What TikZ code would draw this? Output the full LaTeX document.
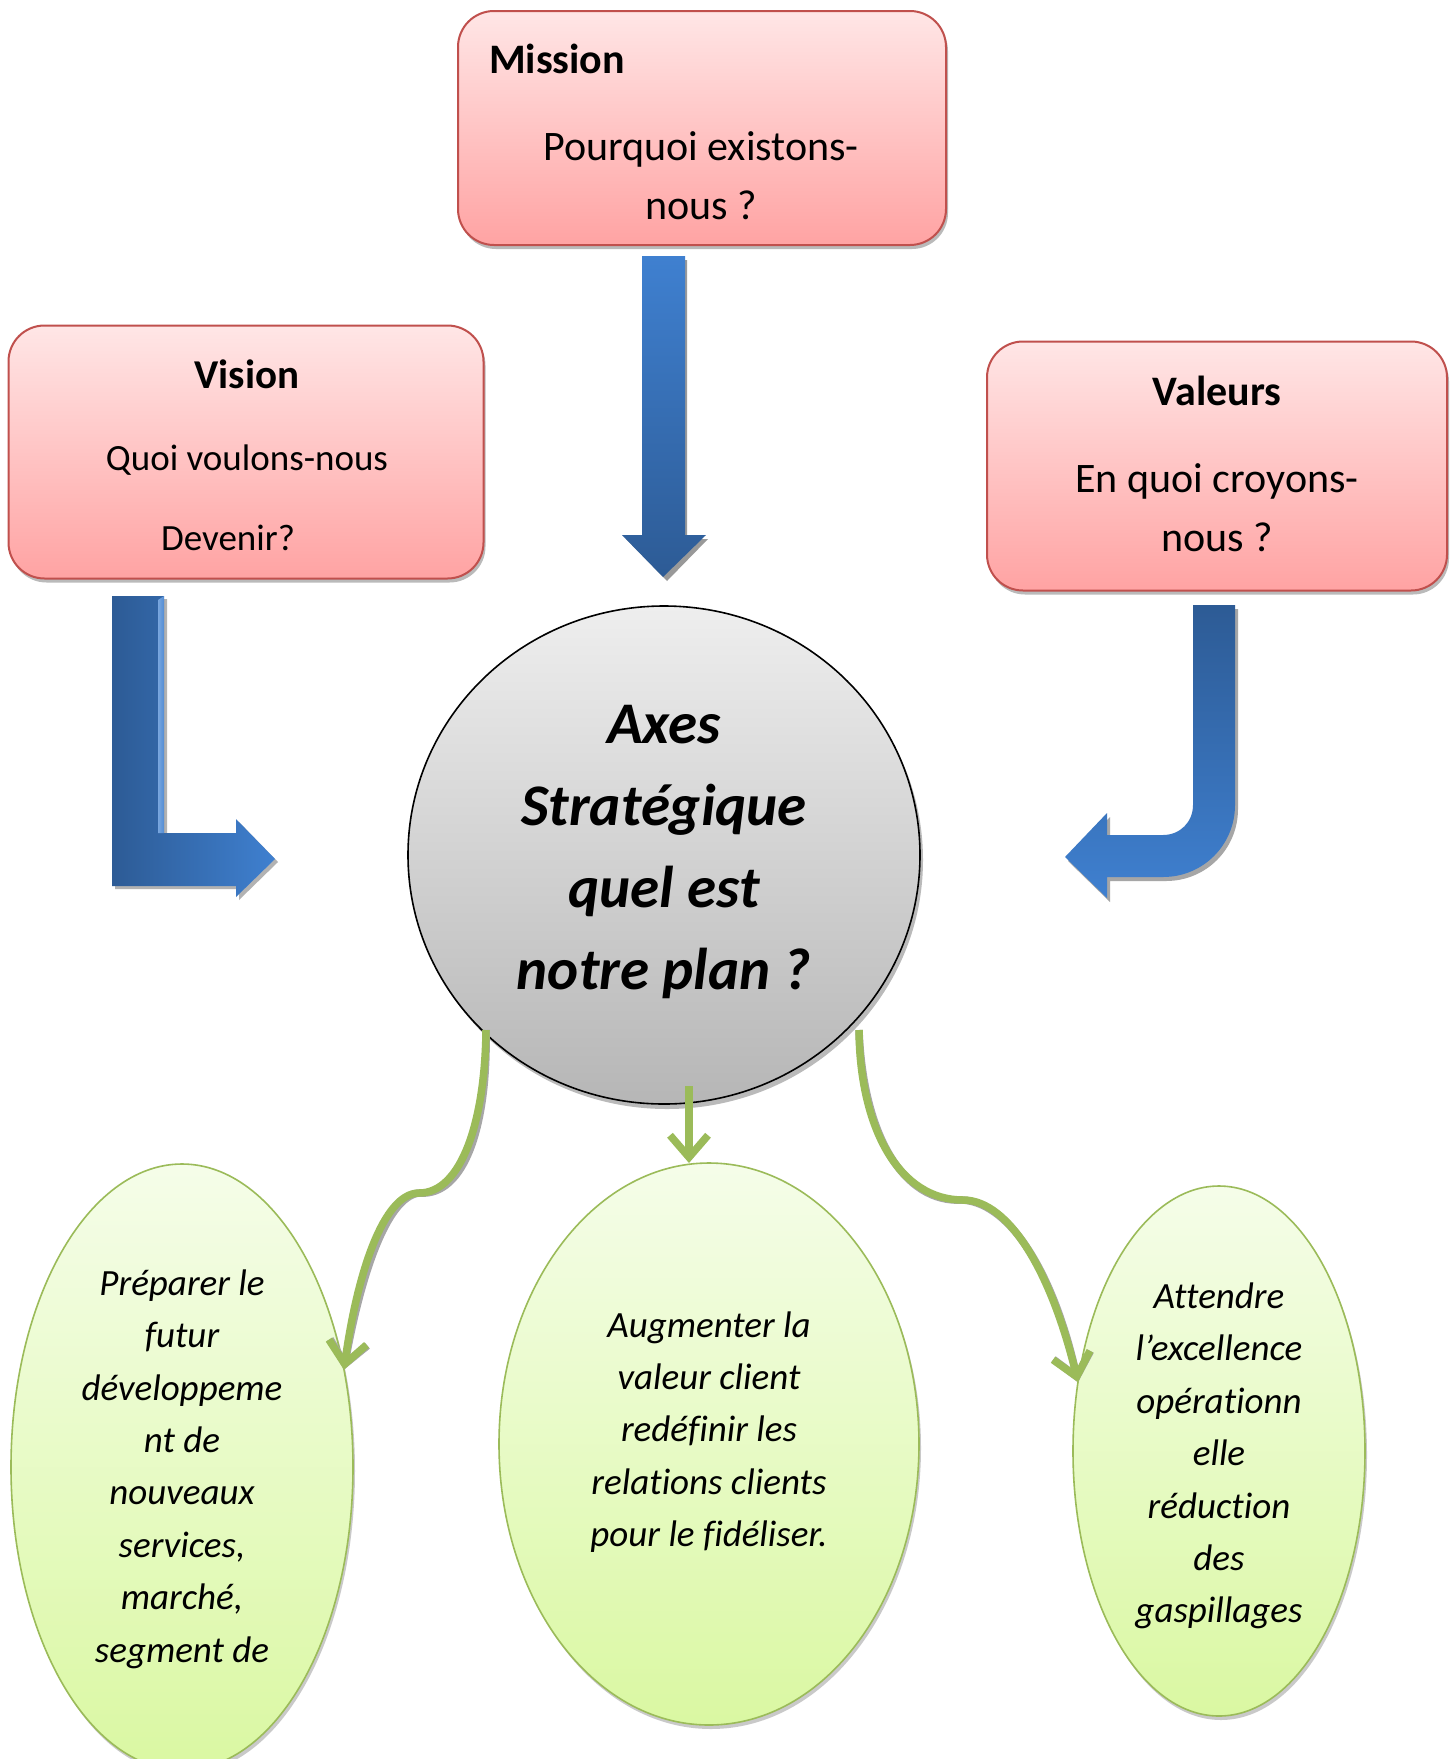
\documentclass[tikz,border=0pt]{standalone}
\usepackage{fontspec}
\setmainfont{Carlito}[Ligatures=CommonOff]
\usetikzlibrary{shapes.geometric,shadows,arrows.meta}
\definecolor{redtop}{HTML}{FFE6E6}
\definecolor{redbot}{HTML}{FFA3A3}
\definecolor{redline}{HTML}{C0504D}
\definecolor{greentop}{HTML}{F5FDE9}
\definecolor{greenbot}{HTML}{DAF8A2}
\definecolor{greenline}{HTML}{9BBB59}
\definecolor{greytop}{HTML}{EEEEEE}
\definecolor{greybot}{HTML}{B6B6B6}
\definecolor{bluelight}{HTML}{3F80D0}
\definecolor{bluedark}{HTML}{2D5B95}
\begin{document}
\begin{tikzpicture}[x=1pt,y=-1pt,
  redbox/.style={rectangle, rounded corners=36pt, draw=redline, line width=2pt,
    top color=redtop, bottom color=redbot, inner sep=0pt, outer sep=0pt,
    drop shadow={shadow xshift=2pt, shadow yshift=-4pt, fill=black!60, opacity=0.45}},
  greenell/.style={ellipse, draw=greenline, line width=1.6pt, top color=greentop,
    bottom color=greenbot, inner sep=0pt, outer sep=0pt,
    drop shadow={shadow xshift=2pt, shadow yshift=-4pt, fill=black!60, opacity=0.35}},
  txt/.style={inner sep=0pt, outer sep=0pt, text=black},
  gline/.style={draw=greenline, line width=7.5pt, -{Straight Barb[length=22pt,width=38pt]}},
  gshadow/.style={draw=black!35, line width=7.5pt, -{Straight Barb[length=22pt,width=38pt]}},
]
\useasboundingbox (0,0) rectangle (1456,1759);
\fill[white] (0,0) rectangle (1456,1759);

% boxes
\node[redbox, minimum width=488pt, minimum height=234pt] (mission) at (702,128) {};
\node[redbox, minimum width=475pt, minimum height=253pt] (vision) at (246,452) {};
\node[redbox, minimum width=460pt, minimum height=249pt] (valeurs) at (1217,466) {};

\node[txt, anchor=west, font=\bfseries\fontsize{42}{50}\selectfont] (missiont) at (489,59) {Mission};
\node[txt, align=center, font=\fontsize{42}{59}\selectfont] (missionb) at (701,175.5) {Pourquoi existons-\\nous ?};

\node[txt, font=\bfseries\fontsize{41}{50}\selectfont] (visiont) at (247,374) {Vision};
\node[txt, font=\fontsize{37}{45}\selectfont] (visionb1) at (247,460) {Quoi voulons-nous};
\node[txt, font=\fontsize{37}{45}\selectfont] (visionb2) at (228,538) {Devenir?};

\node[txt, font=\bfseries\fontsize{42}{50}\selectfont] (valeurst) at (1217,391) {Valeurs};
\node[txt, align=center, font=\fontsize{42}{59}\selectfont] (valeursb) at (1217,507.5) {En quoi croyons-\\nous ?};

% blue arrows
\fill[black!40] (646,260) -- (687,260) -- (687,539) -- (708,539) -- (667,581) -- (626,539) -- (646,539) -- cycle;
\shade[top color=bluelight, bottom color=bluedark] (642,256) -- (685,256) -- (685,535) -- (706,535) -- (663,577) -- (622,535) -- (642,535) -- cycle;

\fill[black!30] (115,599) -- (167,599) -- (167,836) -- (239,836) -- (239,822) -- (278,862) -- (239,900) -- (239,889) -- (115,889) -- cycle;
\shade[left color=bluedark, right color=bluelight] (112,596) -- (164,596) -- (164,833) -- (236,833) -- (236,819) -- (275,859) -- (236,897) -- (236,886) -- (112,886) -- cycle;
\shade[left color=bluelight!70!white, right color=bluelight!90!white] (158,600) -- (164,596) -- (164,833) -- (158,833) -- cycle;

\fill[black!35] (1196,609) -- (1238,609) -- (1238,809) .. controls (1238,849) and (1206,881) .. (1166,881) -- (1110,881) -- (1110,902) -- (1068,861) -- (1110,817) -- (1110,839) -- (1166,839) .. controls (1183,839) and (1196,826) .. (1196,809) -- cycle;
\shade[top color=bluedark, bottom color=bluelight] (1193,605) -- (1235,605) -- (1235,805) .. controls (1235,845) and (1203,877) .. (1163,877) -- (1107,877) -- (1107,898) -- (1065,857) -- (1107,813) -- (1107,835) -- (1163,835) .. controls (1180,835) and (1193,822) .. (1193,805) -- cycle;

% central circle
\node[ellipse, draw=black, line width=1.6pt, top color=greytop, bottom color=greybot,
  minimum width=512pt, minimum height=498pt, inner sep=0pt, outer sep=0pt,
  drop shadow={shadow xshift=3pt, shadow yshift=-5pt, fill=black!60, opacity=0.45}] (circ) at (664,855) {};
\node[txt, align=center, font=\bfseries\itshape\fontsize{59}{82}\selectfont] (circt) at (664,852) {Axes\\Stratégique\\quel est\\notre plan ?};

% green ellipses
\node[greenell, minimum width=342pt, minimum height=606pt] (el1) at (182,1467) {};
\node[greenell, minimum width=420pt, minimum height=562pt] (el2) at (709,1444) {};
\node[greenell, minimum width=292pt, minimum height=530pt] (el3) at (1219,1451) {};

\node[txt, align=center, font=\itshape\fontsize{37}{52.4}\selectfont] (el1t) at (182,1469) {Préparer le\\futur\\développeme\\nt de\\nouveaux\\services,\\marché,\\segment de};
\node[txt, align=center, font=\itshape\fontsize{37}{52.4}\selectfont] (el2t) at (709,1432) {Augmenter la\\valeur client\\redéfinir les\\relations clients\\pour le fidéliser.};
\node[txt, align=center, font=\itshape\fontsize{37}{52.4}\selectfont] (el3t) at (1219,1456) {Attendre\\l’excellence\\opérationn\\elle\\réduction\\des\\gaspillages};

% green connectors
\coordinate (gl0) at (486,1030);
\coordinate (gr0) at (859,1030);
\coordinate (gm0) at (689,1086);
\path (el2.north) ++(-20,0) coordinate (gm1);
\coordinate (gl1) at (419,1193);
\coordinate (gr1) at (963,1200);

\draw[gshadow, shift={(3,4)}] (gl0) .. controls (485,1120) and (462,1193) .. (gl1) .. controls (383,1193) and (357,1275) .. (el1.31);
\draw[gshadow, shift={(3,4)}] (gr0) .. controls (860,1130) and (900,1200) .. (gr1) .. controls (1010,1200) and (1052,1275) .. (el3.154);
\draw[gline] (gl0) .. controls (485,1120) and (462,1193) .. (gl1) .. controls (383,1193) and (357,1275) .. (el1.31);
\draw[gline] (gr0) .. controls (860,1130) and (900,1200) .. (gr1) .. controls (1010,1200) and (1052,1275) .. (el3.154);
\draw[gline] (gm0) -- (gm1);
\end{tikzpicture}
\end{document}
